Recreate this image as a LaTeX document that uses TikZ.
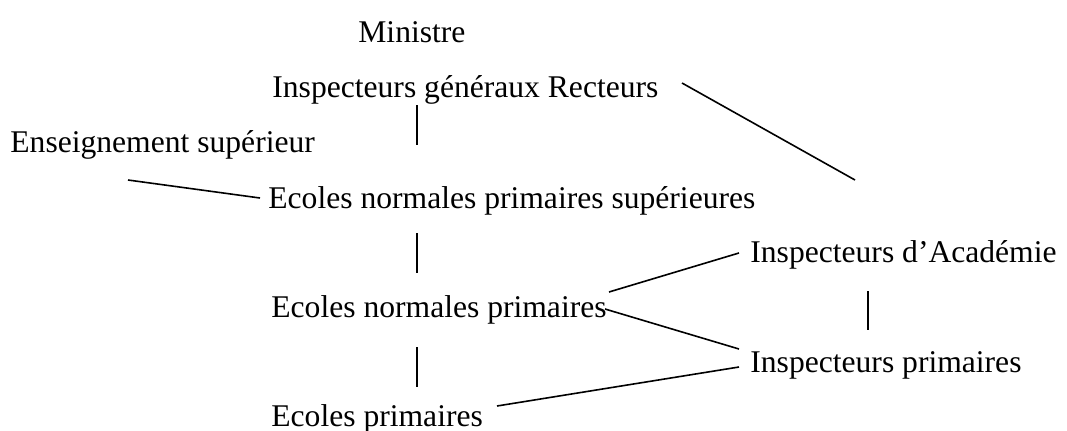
\documentclass[tikz,border=0pt]{standalone}
\usepackage{fontspec}
\setmainfont{Liberation Serif}
\begin{document}
\begin{tikzpicture}[x=0.5pt,y=-0.5pt,
  lbl/.style={anchor=base west,inner sep=0pt,font=\fontsize{15.8pt}{18pt}\selectfont},
  conn/.style={line width=0.8pt,black}]
\useasboundingbox (0,0) rectangle (1067,430);
\node[lbl] (min) at (358,42) {Ministre};
\node[lbl] (insp) at (272,97) {Inspecteurs généraux Recteurs};
\node[lbl] (ens) at (10,152) {Enseignement supérieur};
\node[lbl] (enps) at (268,208) {Ecoles normales primaires supérieures};
\node[lbl] (ia) at (750,262) {Inspecteurs d’Académie};
\node[lbl] (enp) at (271,317) {Ecoles normales primaires};
\node[lbl] (ip) at (750,372) {Inspecteurs primaires};
\node[lbl] (ep) at (271,426) {Ecoles primaires};
% connector end points
\coordinate (a1) at (417,105); \coordinate (a2) at (417,145);
\coordinate (b1) at (128,180); \coordinate (b2) at (260,198);
\coordinate (c1) at (682,83);  \coordinate (c2) at (855,180);
\coordinate (d1) at (417,233); \coordinate (d2) at (417,273);
\coordinate (e1) at (609,292); \coordinate (e2) at (739,253);
\coordinate (f1) at (868,291); \coordinate (f2) at (868,330);
\coordinate (g1) at (605,309); \coordinate (g2) at (739,349);
\coordinate (h1) at (417,347); \coordinate (h2) at (417,387);
\coordinate (k1) at (497,406); \coordinate (k2) at (739,367);
\draw[conn] (a1) -- (a2);
\draw[conn] (b1) -- (b2);
\draw[conn] (c1) -- (c2);
\draw[conn] (d1) -- (d2);
\draw[conn] (e1) -- (e2);
\draw[conn] (f1) -- (f2);
\draw[conn] (g1) -- (g2);
\draw[conn] (h1) -- (h2);
\draw[conn] (k1) -- (k2);
\end{tikzpicture}
\end{document}
